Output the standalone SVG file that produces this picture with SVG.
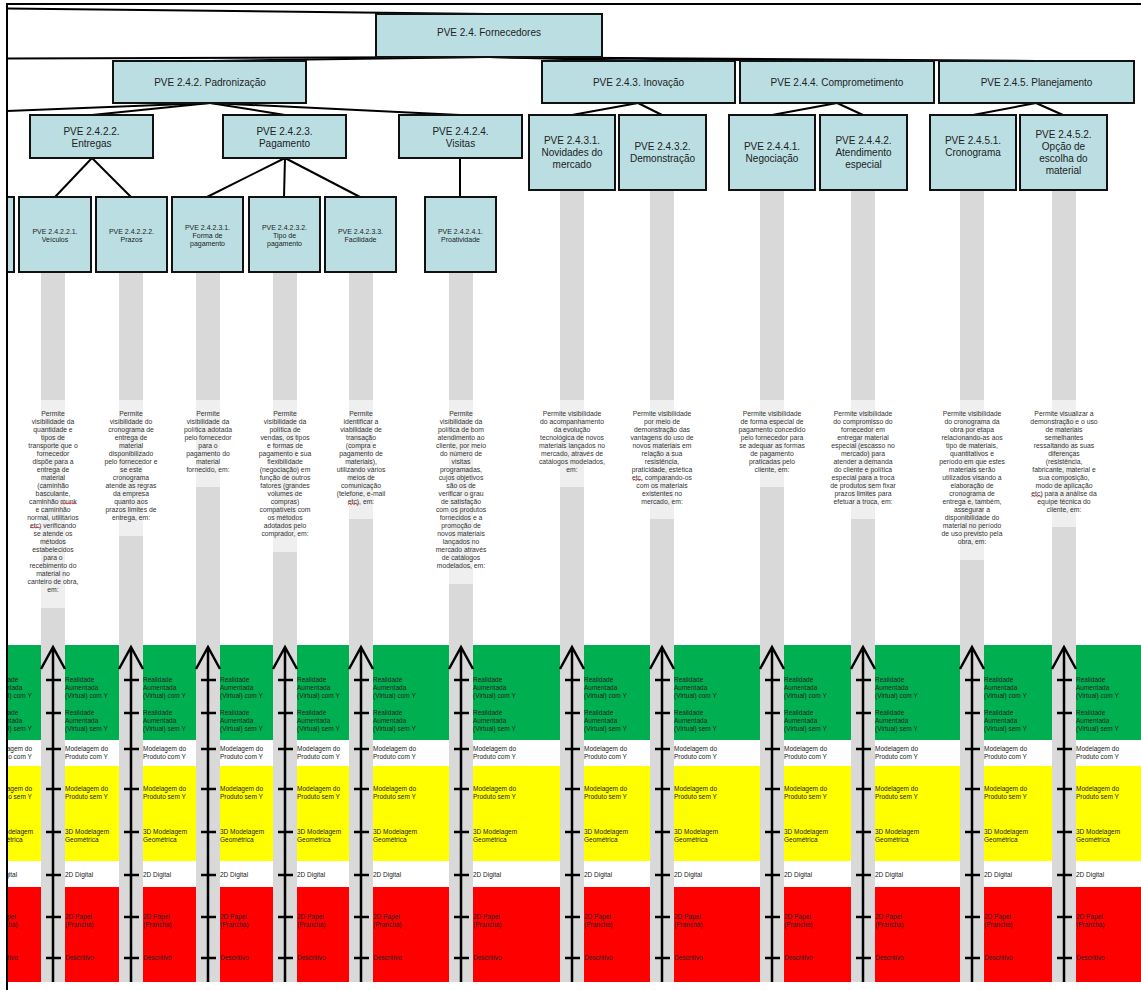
<svg xmlns="http://www.w3.org/2000/svg" width="1141" height="990" viewBox="0 0 1141 990">
<defs>
<style>
.bx{fill:#badee2;stroke:#111;stroke-width:2}
.t{font-family:"Liberation Sans",Arial,sans-serif;fill:#222;text-anchor:middle}
.t10{font-size:10px}
.t7{font-size:7px}
.d{font-family:"Liberation Sans",Arial,sans-serif;font-size:6.8px;fill:#333;text-anchor:middle}
.lb{font-family:"Liberation Sans",Arial,sans-serif;font-size:6.5px;fill:#222}
.bar{fill:#d9d9d9}
.lt{fill:#efefef}
.ax{stroke:#000;stroke-width:2.5;fill:none}
.cn{stroke:#000;stroke-width:2;fill:none}
.sp{stroke:#e02020;stroke-width:0.8;fill:none}
</style>
<clipPath id="clip"><rect x="7" y="0" width="1134" height="990"/></clipPath>
</defs>
<rect x="0" y="0" width="1141" height="990" fill="#fff"/>
<g clip-path="url(#clip)">
<g id="bands">
<rect x="7" y="645" width="1134" height="95" fill="#00b050"/>
<rect x="7" y="766" width="1134" height="95" fill="#ffff00"/>
<rect x="7" y="887" width="1134" height="95" fill="#ff0000"/>
</g>
<g id="bars">
<rect class="bar" x="41" y="272" width="24" height="710"/><rect class="lt" x="41" y="400" width="24" height="208"/>
<rect class="bar" x="119" y="272" width="24" height="710"/><rect class="lt" x="119" y="400" width="24" height="136"/>
<rect class="bar" x="196" y="272" width="24" height="710"/><rect class="lt" x="196" y="400" width="24" height="87"/>
<rect class="bar" x="273" y="272" width="24" height="710"/><rect class="lt" x="273" y="400" width="24" height="152"/>
<rect class="bar" x="349" y="272" width="24" height="710"/><rect class="lt" x="349" y="400" width="24" height="119"/>
<rect class="bar" x="449" y="272" width="24" height="710"/><rect class="lt" x="449" y="400" width="24" height="184"/>
<rect class="bar" x="560" y="190" width="24" height="792"/><rect class="lt" x="560" y="400" width="24" height="87"/>
<rect class="bar" x="650" y="190" width="24" height="792"/><rect class="lt" x="650" y="400" width="24" height="119"/>
<rect class="bar" x="760" y="190" width="24" height="792"/><rect class="lt" x="760" y="400" width="24" height="87"/>
<rect class="bar" x="851" y="190" width="24" height="792"/><rect class="lt" x="851" y="400" width="24" height="119"/>
<rect class="bar" x="960" y="190" width="24" height="792"/><rect class="lt" x="960" y="400" width="24" height="160"/>
<rect class="bar" x="1052" y="190" width="24" height="792"/><rect class="lt" x="1052" y="400" width="24" height="127"/>
</g>
<g id="descriptions">
<text class="d" x="53" y="415.5"><tspan x="53">Permite</tspan><tspan x="53" dy="8">visibilidade da</tspan><tspan x="53" dy="8">quantidade e</tspan><tspan x="53" dy="8">tipos de</tspan><tspan x="53" dy="8">transporte que o</tspan><tspan x="53" dy="8">fornecedor</tspan><tspan x="53" dy="8">dispõe para a</tspan><tspan x="53" dy="8">entrega de</tspan><tspan x="53" dy="8">material</tspan><tspan x="53" dy="8">(caminhão</tspan><tspan x="53" dy="8">basculante,</tspan><tspan x="53" dy="8">caminhão munk</tspan><tspan x="53" dy="8">e caminhão</tspan><tspan x="53" dy="8">normal, utilitários</tspan><tspan x="53" dy="8">etc) verificando</tspan><tspan x="53" dy="8">se atende os</tspan><tspan x="53" dy="8">métodos</tspan><tspan x="53" dy="8">estabelecidos</tspan><tspan x="53" dy="8">para o</tspan><tspan x="53" dy="8">recebimento do</tspan><tspan x="53" dy="8">material no</tspan><tspan x="53" dy="8">canteiro de obra,</tspan><tspan x="53" dy="8">em:</tspan></text>
<text class="d" x="131" y="415.5"><tspan x="131">Permite</tspan><tspan x="131" dy="8">visibilidade do</tspan><tspan x="131" dy="8">cronograma de</tspan><tspan x="131" dy="8">entrega de</tspan><tspan x="131" dy="8">material</tspan><tspan x="131" dy="8">disponibilizado</tspan><tspan x="131" dy="8">pelo fornecedor e</tspan><tspan x="131" dy="8">se este</tspan><tspan x="131" dy="8">cronograma</tspan><tspan x="131" dy="8">atende as regras</tspan><tspan x="131" dy="8">da empresa</tspan><tspan x="131" dy="8">quanto aos</tspan><tspan x="131" dy="8">prazos limites de</tspan><tspan x="131" dy="8">entrega, em:</tspan></text>
<text class="d" x="208" y="415.5"><tspan x="208">Permite</tspan><tspan x="208" dy="8">visibilidade da</tspan><tspan x="208" dy="8">política adotada</tspan><tspan x="208" dy="8">pelo fornecedor</tspan><tspan x="208" dy="8">para o</tspan><tspan x="208" dy="8">pagamento do</tspan><tspan x="208" dy="8">material</tspan><tspan x="208" dy="8">fornecido, em:</tspan></text>
<text class="d" x="285" y="415.5"><tspan x="285">Permite</tspan><tspan x="285" dy="8">visibilidade da</tspan><tspan x="285" dy="8">política de</tspan><tspan x="285" dy="8">vendas, os tipos</tspan><tspan x="285" dy="8">e formas de</tspan><tspan x="285" dy="8">pagamento e sua</tspan><tspan x="285" dy="8">flexibilidade</tspan><tspan x="285" dy="8">(negociação) em</tspan><tspan x="285" dy="8">função de outros</tspan><tspan x="285" dy="8">fatores (grandes</tspan><tspan x="285" dy="8">volumes de</tspan><tspan x="285" dy="8">compras)</tspan><tspan x="285" dy="8">compatíveis com</tspan><tspan x="285" dy="8">os métodos</tspan><tspan x="285" dy="8">adotados pelo</tspan><tspan x="285" dy="8">comprador, em:</tspan></text>
<text class="d" x="361" y="415.5"><tspan x="361">Permite</tspan><tspan x="361" dy="8">identificar a</tspan><tspan x="361" dy="8">viabilidade de</tspan><tspan x="361" dy="8">transação</tspan><tspan x="361" dy="8">(compra e</tspan><tspan x="361" dy="8">pagamento de</tspan><tspan x="361" dy="8">materiais),</tspan><tspan x="361" dy="8">utilizando vários</tspan><tspan x="361" dy="8">meios de</tspan><tspan x="361" dy="8">comunicação</tspan><tspan x="361" dy="8">(telefone, e-mail</tspan><tspan x="361" dy="8">etc), em:</tspan></text>
<text class="d" x="461" y="415.5"><tspan x="461">Permite</tspan><tspan x="461" dy="8">visibilidade da</tspan><tspan x="461" dy="8">política de bom</tspan><tspan x="461" dy="8">atendimento ao</tspan><tspan x="461" dy="8">cliente, por meio</tspan><tspan x="461" dy="8">do número de</tspan><tspan x="461" dy="8">visitas</tspan><tspan x="461" dy="8">programadas,</tspan><tspan x="461" dy="8">cujos objetivos</tspan><tspan x="461" dy="8">são os de</tspan><tspan x="461" dy="8">verificar o grau</tspan><tspan x="461" dy="8">de satisfação</tspan><tspan x="461" dy="8">com os produtos</tspan><tspan x="461" dy="8">fornecidos e a</tspan><tspan x="461" dy="8">promoção de</tspan><tspan x="461" dy="8">novos materiais</tspan><tspan x="461" dy="8">lançados no</tspan><tspan x="461" dy="8">mercado através</tspan><tspan x="461" dy="8">de catálogos</tspan><tspan x="461" dy="8">modelados, em:</tspan></text>
<text class="d" x="572" y="415.5"><tspan x="572">Permite visibilidade</tspan><tspan x="572" dy="8">do acompanhamento</tspan><tspan x="572" dy="8">da evolução</tspan><tspan x="572" dy="8">tecnológica de novos</tspan><tspan x="572" dy="8">materiais lançados no</tspan><tspan x="572" dy="8">mercado, através de</tspan><tspan x="572" dy="8">catálogos modelados,</tspan><tspan x="572" dy="8">em:</tspan></text>
<text class="d" x="662" y="415.5"><tspan x="662">Permite visibilidade</tspan><tspan x="662" dy="8">por meio de</tspan><tspan x="662" dy="8">demonstração das</tspan><tspan x="662" dy="8">vantagens do uso de</tspan><tspan x="662" dy="8">novos materiais em</tspan><tspan x="662" dy="8">relação a sua</tspan><tspan x="662" dy="8">resistência,</tspan><tspan x="662" dy="8">praticidade, estética</tspan><tspan x="662" dy="8">etc, comparando-os</tspan><tspan x="662" dy="8">com os materiais</tspan><tspan x="662" dy="8">existentes no</tspan><tspan x="662" dy="8">mercado, em:</tspan></text>
<text class="d" x="772" y="415.5"><tspan x="772">Permite visibilidade</tspan><tspan x="772" dy="8">de forma especial de</tspan><tspan x="772" dy="8">pagamento concedido</tspan><tspan x="772" dy="8">pelo fornecedor para</tspan><tspan x="772" dy="8">se adequar as formas</tspan><tspan x="772" dy="8">de pagamento</tspan><tspan x="772" dy="8">praticadas pelo</tspan><tspan x="772" dy="8">cliente, em:</tspan></text>
<text class="d" x="863" y="415.5"><tspan x="863">Permite visibilidade</tspan><tspan x="863" dy="8">do compromisso do</tspan><tspan x="863" dy="8">fornecedor em</tspan><tspan x="863" dy="8">entregar material</tspan><tspan x="863" dy="8">especial (escasso no</tspan><tspan x="863" dy="8">mercado) para</tspan><tspan x="863" dy="8">atender a demanda</tspan><tspan x="863" dy="8">do cliente e política</tspan><tspan x="863" dy="8">especial para a troca</tspan><tspan x="863" dy="8">de produtos sem fixar</tspan><tspan x="863" dy="8">prazos limites para</tspan><tspan x="863" dy="8">efetuar a troca, em:</tspan></text>
<text class="d" x="972" y="415.5"><tspan x="972">Permite visibilidade</tspan><tspan x="972" dy="8">do cronograma da</tspan><tspan x="972" dy="8">obra por etapa</tspan><tspan x="972" dy="8">relacionando-as aos</tspan><tspan x="972" dy="8">tipo de materiais,</tspan><tspan x="972" dy="8">quantitativos e</tspan><tspan x="972" dy="8">período em que estes</tspan><tspan x="972" dy="8">materiais serão</tspan><tspan x="972" dy="8">utilizados visando a</tspan><tspan x="972" dy="8">elaboração de</tspan><tspan x="972" dy="8">cronograma de</tspan><tspan x="972" dy="8">entrega e, também,</tspan><tspan x="972" dy="8">assegurar a</tspan><tspan x="972" dy="8">disponibilidade do</tspan><tspan x="972" dy="8">material no período</tspan><tspan x="972" dy="8">de uso previsto pela</tspan><tspan x="972" dy="8">obra, em:</tspan></text>
<text class="d" x="1064" y="415.5"><tspan x="1064">Permite visualizar a</tspan><tspan x="1064" dy="8">demonstração e o uso</tspan><tspan x="1064" dy="8">de materiais</tspan><tspan x="1064" dy="8">semelhantes</tspan><tspan x="1064" dy="8">ressaltando as suas</tspan><tspan x="1064" dy="8">diferenças</tspan><tspan x="1064" dy="8">(resistência,</tspan><tspan x="1064" dy="8">fabricante, material e</tspan><tspan x="1064" dy="8">sua composição,</tspan><tspan x="1064" dy="8">modo de aplicação</tspan><tspan x="1064" dy="8">etc) para a análise da</tspan><tspan x="1064" dy="8">equipe técnica do</tspan><tspan x="1064" dy="8">cliente, em:</tspan></text>
<path class="sp" d="M61,504 l1.5,-1 l1.5,1 l1.5,-1 l1.5,1 l1.5,-1 l1.5,1 l1.5,-1 l1.5,1 l1.5,-1 l1.5,1"/>
<path class="sp" d="M30,528 l1.5,-1 l1.5,1 l1.5,-1 l1.5,1 l1.5,-1 l1.5,1 l1.5,-1"/>
<path class="sp" d="M348,504.5 l1.5,-1 l1.5,1 l1.5,-1 l1.5,1 l1.5,-1 l1.5,1 l1.5,-1"/>
<path class="sp" d="M633,480.5 l1.5,-1 l1.5,1 l1.5,-1 l1.5,1 l1.5,-1 l1.5,1"/>
<path class="sp" d="M1031.5,496.5 l1.5,-1 l1.5,1 l1.5,-1 l1.5,1 l1.5,-1 l1.5,1 l1.5,-1"/>
</g>
<g id="scales">
<g class="ax">
<path d="M41,669 L53,647 L65,669 M53,647 V982 M46,680 H61 M46,713 H61 M46,749 H61 M46,789 H61 M46,832 H61 M46,875 H61 M46,917 H61 M46,958 H61"/>
<path d="M119,669 L131,647 L143,669 M131,647 V982 M124,680 H139 M124,713 H139 M124,749 H139 M124,789 H139 M124,832 H139 M124,875 H139 M124,917 H139 M124,958 H139"/>
<path d="M196,669 L208,647 L220,669 M208,647 V982 M201,680 H216 M201,713 H216 M201,749 H216 M201,789 H216 M201,832 H216 M201,875 H216 M201,917 H216 M201,958 H216"/>
<path d="M273,669 L285,647 L297,669 M285,647 V982 M278,680 H293 M278,713 H293 M278,749 H293 M278,789 H293 M278,832 H293 M278,875 H293 M278,917 H293 M278,958 H293"/>
<path d="M349,669 L361,647 L373,669 M361,647 V982 M354,680 H369 M354,713 H369 M354,749 H369 M354,789 H369 M354,832 H369 M354,875 H369 M354,917 H369 M354,958 H369"/>
<path d="M449,669 L461,647 L473,669 M461,647 V982 M454,680 H469 M454,713 H469 M454,749 H469 M454,789 H469 M454,832 H469 M454,875 H469 M454,917 H469 M454,958 H469"/>
<path d="M560,669 L572,647 L584,669 M572,647 V982 M565,680 H580 M565,713 H580 M565,749 H580 M565,789 H580 M565,832 H580 M565,875 H580 M565,917 H580 M565,958 H580"/>
<path d="M650,669 L662,647 L674,669 M662,647 V982 M655,680 H670 M655,713 H670 M655,749 H670 M655,789 H670 M655,832 H670 M655,875 H670 M655,917 H670 M655,958 H670"/>
<path d="M760,669 L772,647 L784,669 M772,647 V982 M765,680 H780 M765,713 H780 M765,749 H780 M765,789 H780 M765,832 H780 M765,875 H780 M765,917 H780 M765,958 H780"/>
<path d="M851,669 L863,647 L875,669 M863,647 V982 M856,680 H871 M856,713 H871 M856,749 H871 M856,789 H871 M856,832 H871 M856,875 H871 M856,917 H871 M856,958 H871"/>
<path d="M960,669 L972,647 L984,669 M972,647 V982 M965,680 H980 M965,713 H980 M965,749 H980 M965,789 H980 M965,832 H980 M965,875 H980 M965,917 H980 M965,958 H980"/>
<path d="M1052,669 L1064,647 L1076,669 M1064,647 V982 M1057,680 H1072 M1057,713 H1072 M1057,749 H1072 M1057,789 H1072 M1057,832 H1072 M1057,875 H1072 M1057,917 H1072 M1057,958 H1072"/>
</g>
</g>
<g id="scale-labels">
<text class="lb" x="-11" y="682.4"><tspan x="-11">Realidade</tspan><tspan x="-11" dy="8">Aumentada</tspan><tspan x="-11" dy="8">(Virtual) com Y</tspan></text>
<text class="lb" x="-11" y="715.4"><tspan x="-11">Realidade</tspan><tspan x="-11" dy="8">Aumentada</tspan><tspan x="-11" dy="8">(Virtual) sem Y</tspan></text>
<text class="lb" x="-11" y="751.4"><tspan x="-11">Modelagem do</tspan><tspan x="-11" dy="8">Produto com Y</tspan></text>
<text class="lb" x="-11" y="791.4"><tspan x="-11">Modelagem do</tspan><tspan x="-11" dy="8">Produto sem Y</tspan></text>
<text class="lb" x="-11" y="834.4"><tspan x="-11">3D Modelagem</tspan><tspan x="-11" dy="8">Geométrica</tspan></text>
<text class="lb" x="-11" y="877.4">2D Digital</text>
<text class="lb" x="-11" y="919.4"><tspan x="-11">2D Papel</tspan><tspan x="-11" dy="8">(Prancha)</tspan></text>
<text class="lb" x="-11" y="960.4">Descritivo</text>

<text class="lb" x="65" y="682.4"><tspan x="65">Realidade</tspan><tspan x="65" dy="8">Aumentada</tspan><tspan x="65" dy="8">(Virtual) com Y</tspan></text>
<text class="lb" x="65" y="715.4"><tspan x="65">Realidade</tspan><tspan x="65" dy="8">Aumentada</tspan><tspan x="65" dy="8">(Virtual) sem Y</tspan></text>
<text class="lb" x="65" y="751.4"><tspan x="65">Modelagem do</tspan><tspan x="65" dy="8">Produto com Y</tspan></text>
<text class="lb" x="65" y="791.4"><tspan x="65">Modelagem do</tspan><tspan x="65" dy="8">Produto sem Y</tspan></text>
<text class="lb" x="65" y="834.4"><tspan x="65">3D Modelagem</tspan><tspan x="65" dy="8">Geométrica</tspan></text>
<text class="lb" x="65" y="877.4">2D Digital</text>
<text class="lb" x="65" y="919.4"><tspan x="65">2D Papel</tspan><tspan x="65" dy="8">(Prancha)</tspan></text>
<text class="lb" x="65" y="960.4">Descritivo</text>

<text class="lb" x="143" y="682.4"><tspan x="143">Realidade</tspan><tspan x="143" dy="8">Aumentada</tspan><tspan x="143" dy="8">(Virtual) com Y</tspan></text>
<text class="lb" x="143" y="715.4"><tspan x="143">Realidade</tspan><tspan x="143" dy="8">Aumentada</tspan><tspan x="143" dy="8">(Virtual) sem Y</tspan></text>
<text class="lb" x="143" y="751.4"><tspan x="143">Modelagem do</tspan><tspan x="143" dy="8">Produto com Y</tspan></text>
<text class="lb" x="143" y="791.4"><tspan x="143">Modelagem do</tspan><tspan x="143" dy="8">Produto sem Y</tspan></text>
<text class="lb" x="143" y="834.4"><tspan x="143">3D Modelagem</tspan><tspan x="143" dy="8">Geométrica</tspan></text>
<text class="lb" x="143" y="877.4">2D Digital</text>
<text class="lb" x="143" y="919.4"><tspan x="143">2D Papel</tspan><tspan x="143" dy="8">(Prancha)</tspan></text>
<text class="lb" x="143" y="960.4">Descritivo</text>

<text class="lb" x="220" y="682.4"><tspan x="220">Realidade</tspan><tspan x="220" dy="8">Aumentada</tspan><tspan x="220" dy="8">(Virtual) com Y</tspan></text>
<text class="lb" x="220" y="715.4"><tspan x="220">Realidade</tspan><tspan x="220" dy="8">Aumentada</tspan><tspan x="220" dy="8">(Virtual) sem Y</tspan></text>
<text class="lb" x="220" y="751.4"><tspan x="220">Modelagem do</tspan><tspan x="220" dy="8">Produto com Y</tspan></text>
<text class="lb" x="220" y="791.4"><tspan x="220">Modelagem do</tspan><tspan x="220" dy="8">Produto sem Y</tspan></text>
<text class="lb" x="220" y="834.4"><tspan x="220">3D Modelagem</tspan><tspan x="220" dy="8">Geométrica</tspan></text>
<text class="lb" x="220" y="877.4">2D Digital</text>
<text class="lb" x="220" y="919.4"><tspan x="220">2D Papel</tspan><tspan x="220" dy="8">(Prancha)</tspan></text>
<text class="lb" x="220" y="960.4">Descritivo</text>

<text class="lb" x="297" y="682.4"><tspan x="297">Realidade</tspan><tspan x="297" dy="8">Aumentada</tspan><tspan x="297" dy="8">(Virtual) com Y</tspan></text>
<text class="lb" x="297" y="715.4"><tspan x="297">Realidade</tspan><tspan x="297" dy="8">Aumentada</tspan><tspan x="297" dy="8">(Virtual) sem Y</tspan></text>
<text class="lb" x="297" y="751.4"><tspan x="297">Modelagem do</tspan><tspan x="297" dy="8">Produto com Y</tspan></text>
<text class="lb" x="297" y="791.4"><tspan x="297">Modelagem do</tspan><tspan x="297" dy="8">Produto sem Y</tspan></text>
<text class="lb" x="297" y="834.4"><tspan x="297">3D Modelagem</tspan><tspan x="297" dy="8">Geométrica</tspan></text>
<text class="lb" x="297" y="877.4">2D Digital</text>
<text class="lb" x="297" y="919.4"><tspan x="297">2D Papel</tspan><tspan x="297" dy="8">(Prancha)</tspan></text>
<text class="lb" x="297" y="960.4">Descritivo</text>

<text class="lb" x="373" y="682.4"><tspan x="373">Realidade</tspan><tspan x="373" dy="8">Aumentada</tspan><tspan x="373" dy="8">(Virtual) com Y</tspan></text>
<text class="lb" x="373" y="715.4"><tspan x="373">Realidade</tspan><tspan x="373" dy="8">Aumentada</tspan><tspan x="373" dy="8">(Virtual) sem Y</tspan></text>
<text class="lb" x="373" y="751.4"><tspan x="373">Modelagem do</tspan><tspan x="373" dy="8">Produto com Y</tspan></text>
<text class="lb" x="373" y="791.4"><tspan x="373">Modelagem do</tspan><tspan x="373" dy="8">Produto sem Y</tspan></text>
<text class="lb" x="373" y="834.4"><tspan x="373">3D Modelagem</tspan><tspan x="373" dy="8">Geométrica</tspan></text>
<text class="lb" x="373" y="877.4">2D Digital</text>
<text class="lb" x="373" y="919.4"><tspan x="373">2D Papel</tspan><tspan x="373" dy="8">(Prancha)</tspan></text>
<text class="lb" x="373" y="960.4">Descritivo</text>

<text class="lb" x="473" y="682.4"><tspan x="473">Realidade</tspan><tspan x="473" dy="8">Aumentada</tspan><tspan x="473" dy="8">(Virtual) com Y</tspan></text>
<text class="lb" x="473" y="715.4"><tspan x="473">Realidade</tspan><tspan x="473" dy="8">Aumentada</tspan><tspan x="473" dy="8">(Virtual) sem Y</tspan></text>
<text class="lb" x="473" y="751.4"><tspan x="473">Modelagem do</tspan><tspan x="473" dy="8">Produto com Y</tspan></text>
<text class="lb" x="473" y="791.4"><tspan x="473">Modelagem do</tspan><tspan x="473" dy="8">Produto sem Y</tspan></text>
<text class="lb" x="473" y="834.4"><tspan x="473">3D Modelagem</tspan><tspan x="473" dy="8">Geométrica</tspan></text>
<text class="lb" x="473" y="877.4">2D Digital</text>
<text class="lb" x="473" y="919.4"><tspan x="473">2D Papel</tspan><tspan x="473" dy="8">(Prancha)</tspan></text>
<text class="lb" x="473" y="960.4">Descritivo</text>

<text class="lb" x="584" y="682.4"><tspan x="584">Realidade</tspan><tspan x="584" dy="8">Aumentada</tspan><tspan x="584" dy="8">(Virtual) com Y</tspan></text>
<text class="lb" x="584" y="715.4"><tspan x="584">Realidade</tspan><tspan x="584" dy="8">Aumentada</tspan><tspan x="584" dy="8">(Virtual) sem Y</tspan></text>
<text class="lb" x="584" y="751.4"><tspan x="584">Modelagem do</tspan><tspan x="584" dy="8">Produto com Y</tspan></text>
<text class="lb" x="584" y="791.4"><tspan x="584">Modelagem do</tspan><tspan x="584" dy="8">Produto sem Y</tspan></text>
<text class="lb" x="584" y="834.4"><tspan x="584">3D Modelagem</tspan><tspan x="584" dy="8">Geométrica</tspan></text>
<text class="lb" x="584" y="877.4">2D Digital</text>
<text class="lb" x="584" y="919.4"><tspan x="584">2D Papel</tspan><tspan x="584" dy="8">(Prancha)</tspan></text>
<text class="lb" x="584" y="960.4">Descritivo</text>

<text class="lb" x="674" y="682.4"><tspan x="674">Realidade</tspan><tspan x="674" dy="8">Aumentada</tspan><tspan x="674" dy="8">(Virtual) com Y</tspan></text>
<text class="lb" x="674" y="715.4"><tspan x="674">Realidade</tspan><tspan x="674" dy="8">Aumentada</tspan><tspan x="674" dy="8">(Virtual) sem Y</tspan></text>
<text class="lb" x="674" y="751.4"><tspan x="674">Modelagem do</tspan><tspan x="674" dy="8">Produto com Y</tspan></text>
<text class="lb" x="674" y="791.4"><tspan x="674">Modelagem do</tspan><tspan x="674" dy="8">Produto sem Y</tspan></text>
<text class="lb" x="674" y="834.4"><tspan x="674">3D Modelagem</tspan><tspan x="674" dy="8">Geométrica</tspan></text>
<text class="lb" x="674" y="877.4">2D Digital</text>
<text class="lb" x="674" y="919.4"><tspan x="674">2D Papel</tspan><tspan x="674" dy="8">(Prancha)</tspan></text>
<text class="lb" x="674" y="960.4">Descritivo</text>

<text class="lb" x="784" y="682.4"><tspan x="784">Realidade</tspan><tspan x="784" dy="8">Aumentada</tspan><tspan x="784" dy="8">(Virtual) com Y</tspan></text>
<text class="lb" x="784" y="715.4"><tspan x="784">Realidade</tspan><tspan x="784" dy="8">Aumentada</tspan><tspan x="784" dy="8">(Virtual) sem Y</tspan></text>
<text class="lb" x="784" y="751.4"><tspan x="784">Modelagem do</tspan><tspan x="784" dy="8">Produto com Y</tspan></text>
<text class="lb" x="784" y="791.4"><tspan x="784">Modelagem do</tspan><tspan x="784" dy="8">Produto sem Y</tspan></text>
<text class="lb" x="784" y="834.4"><tspan x="784">3D Modelagem</tspan><tspan x="784" dy="8">Geométrica</tspan></text>
<text class="lb" x="784" y="877.4">2D Digital</text>
<text class="lb" x="784" y="919.4"><tspan x="784">2D Papel</tspan><tspan x="784" dy="8">(Prancha)</tspan></text>
<text class="lb" x="784" y="960.4">Descritivo</text>

<text class="lb" x="875" y="682.4"><tspan x="875">Realidade</tspan><tspan x="875" dy="8">Aumentada</tspan><tspan x="875" dy="8">(Virtual) com Y</tspan></text>
<text class="lb" x="875" y="715.4"><tspan x="875">Realidade</tspan><tspan x="875" dy="8">Aumentada</tspan><tspan x="875" dy="8">(Virtual) sem Y</tspan></text>
<text class="lb" x="875" y="751.4"><tspan x="875">Modelagem do</tspan><tspan x="875" dy="8">Produto com Y</tspan></text>
<text class="lb" x="875" y="791.4"><tspan x="875">Modelagem do</tspan><tspan x="875" dy="8">Produto sem Y</tspan></text>
<text class="lb" x="875" y="834.4"><tspan x="875">3D Modelagem</tspan><tspan x="875" dy="8">Geométrica</tspan></text>
<text class="lb" x="875" y="877.4">2D Digital</text>
<text class="lb" x="875" y="919.4"><tspan x="875">2D Papel</tspan><tspan x="875" dy="8">(Prancha)</tspan></text>
<text class="lb" x="875" y="960.4">Descritivo</text>

<text class="lb" x="984" y="682.4"><tspan x="984">Realidade</tspan><tspan x="984" dy="8">Aumentada</tspan><tspan x="984" dy="8">(Virtual) com Y</tspan></text>
<text class="lb" x="984" y="715.4"><tspan x="984">Realidade</tspan><tspan x="984" dy="8">Aumentada</tspan><tspan x="984" dy="8">(Virtual) sem Y</tspan></text>
<text class="lb" x="984" y="751.4"><tspan x="984">Modelagem do</tspan><tspan x="984" dy="8">Produto com Y</tspan></text>
<text class="lb" x="984" y="791.4"><tspan x="984">Modelagem do</tspan><tspan x="984" dy="8">Produto sem Y</tspan></text>
<text class="lb" x="984" y="834.4"><tspan x="984">3D Modelagem</tspan><tspan x="984" dy="8">Geométrica</tspan></text>
<text class="lb" x="984" y="877.4">2D Digital</text>
<text class="lb" x="984" y="919.4"><tspan x="984">2D Papel</tspan><tspan x="984" dy="8">(Prancha)</tspan></text>
<text class="lb" x="984" y="960.4">Descritivo</text>

<text class="lb" x="1076" y="682.4"><tspan x="1076">Realidade</tspan><tspan x="1076" dy="8">Aumentada</tspan><tspan x="1076" dy="8">(Virtual) com Y</tspan></text>
<text class="lb" x="1076" y="715.4"><tspan x="1076">Realidade</tspan><tspan x="1076" dy="8">Aumentada</tspan><tspan x="1076" dy="8">(Virtual) sem Y</tspan></text>
<text class="lb" x="1076" y="751.4"><tspan x="1076">Modelagem do</tspan><tspan x="1076" dy="8">Produto com Y</tspan></text>
<text class="lb" x="1076" y="791.4"><tspan x="1076">Modelagem do</tspan><tspan x="1076" dy="8">Produto sem Y</tspan></text>
<text class="lb" x="1076" y="834.4"><tspan x="1076">3D Modelagem</tspan><tspan x="1076" dy="8">Geométrica</tspan></text>
<text class="lb" x="1076" y="877.4">2D Digital</text>
<text class="lb" x="1076" y="919.4"><tspan x="1076">2D Papel</tspan><tspan x="1076" dy="8">(Prancha)</tspan></text>
<text class="lb" x="1076" y="960.4">Descritivo</text>
</g>
<g id="connectors" class="cn">
<line x1="7" y1="4" x2="1141" y2="4"/>
<line x1="489" y1="14" x2="7" y2="8.5"/>
<line x1="489" y1="57" x2="7" y2="58.5"/>
<line x1="489" y1="57" x2="210" y2="61"/>
<line x1="489" y1="57" x2="638" y2="61"/>
<line x1="489" y1="57" x2="837" y2="61"/>
<line x1="489" y1="57" x2="1036" y2="61"/>
<line x1="210" y1="103" x2="7" y2="111"/>
<line x1="210" y1="103" x2="92" y2="115"/>
<line x1="210" y1="103" x2="285" y2="115"/>
<line x1="210" y1="103" x2="460" y2="115"/>
<line x1="638" y1="103" x2="572" y2="115"/>
<line x1="638" y1="103" x2="662" y2="115"/>
<line x1="837" y1="103" x2="772" y2="115"/>
<line x1="837" y1="103" x2="863" y2="115"/>
<line x1="1036" y1="103" x2="973" y2="115"/>
<line x1="1036" y1="103" x2="1063" y2="115"/>
<line x1="92" y1="158" x2="55" y2="197"/>
<line x1="92" y1="158" x2="131" y2="197"/>
<line x1="285" y1="158" x2="207" y2="197"/>
<line x1="285" y1="158" x2="284" y2="197"/>
<line x1="285" y1="158" x2="360" y2="197"/>
<line x1="460" y1="158" x2="460" y2="197"/>
</g>
<g id="node-fornecedores"><rect class="bx" x="376" y="14" width="226" height="43"/><text class="t t10" x="489" y="35.5">PVE 2.4. Fornecedores</text></g>
<g id="node-padronizacao"><rect class="bx" x="113" y="61" width="193" height="42"/><text class="t t10" x="210" y="85.5">PVE 2.4.2. Padronização</text></g>
<g id="node-inovacao"><rect class="bx" x="542" y="61" width="193" height="42"/><text class="t t10" x="638.5" y="85.5">PVE 2.4.3. Inovação</text></g>
<g id="node-comprometimento"><rect class="bx" x="740" y="61" width="194" height="42"/><text class="t t10" x="837" y="85.5">PVE 2.4.4. Comprometimento</text></g>
<g id="node-planejamento"><rect class="bx" x="939" y="61" width="195" height="42"/><text class="t t10" x="1036.5" y="85.5">PVE 2.4.5. Planejamento</text></g>
<g id="node-entregas"><rect class="bx" x="30" y="115" width="123" height="43"/><text class="t t10" x="91.5" y="134.5"><tspan x="91.5">PVE 2.4.2.2.</tspan><tspan x="91.5" dy="12">Entregas</tspan></text></g>
<g id="node-pagamento"><rect class="bx" x="223" y="115" width="123" height="43"/><text class="t t10" x="284.5" y="134.5"><tspan x="284.5">PVE 2.4.2.3.</tspan><tspan x="284.5" dy="12">Pagamento</tspan></text></g>
<g id="node-visitas"><rect class="bx" x="399" y="115" width="123" height="43"/><text class="t t10" x="460.5" y="134.5"><tspan x="460.5">PVE 2.4.2.4.</tspan><tspan x="460.5" dy="12">Visitas</tspan></text></g>
<g id="node-novidades"><rect class="bx" x="529" y="115" width="86" height="75"/><text class="t t10" x="572" y="144"><tspan x="572">PVE 2.4.3.1.</tspan><tspan x="572" dy="12">Novidades do</tspan><tspan x="572" dy="12">mercado</tspan></text></g>
<g id="node-demonstracao"><rect class="bx" x="619" y="115" width="87" height="75"/><text class="t t10" x="662.5" y="150"><tspan x="662.5">PVE 2.4.3.2.</tspan><tspan x="662.5" dy="12">Demonstração</tspan></text></g>
<g id="node-negociacao"><rect class="bx" x="729" y="115" width="86" height="75"/><text class="t t10" x="772" y="150"><tspan x="772">PVE 2.4.4.1.</tspan><tspan x="772" dy="12">Negociação</tspan></text></g>
<g id="node-atendimento"><rect class="bx" x="820" y="115" width="87" height="75"/><text class="t t10" x="863.5" y="144"><tspan x="863.5">PVE 2.4.4.2.</tspan><tspan x="863.5" dy="12">Atendimento</tspan><tspan x="863.5" dy="12">especial</tspan></text></g>
<g id="node-cronograma"><rect class="bx" x="930" y="115" width="86" height="75"/><text class="t t10" x="973" y="144"><tspan x="973">PVE 2.4.5.1.</tspan><tspan x="973" dy="12">Cronograma</tspan></text></g>
<g id="node-opcao"><rect class="bx" x="1020" y="115" width="87" height="75"/><text class="t t10" x="1063.5" y="138"><tspan x="1063.5">PVE 2.4.5.2.</tspan><tspan x="1063.5" dy="12">Opção de</tspan><tspan x="1063.5" dy="12">escolha do</tspan><tspan x="1063.5" dy="12">material</tspan></text></g>
<g id="node-partial"><rect class="bx" x="-60" y="197" width="74" height="75"/></g>
<g id="node-veiculos"><rect class="bx" x="19" y="197" width="72" height="75"/><text class="t t7" x="55" y="233.5"><tspan x="55">PVE 2.4.2.2.1.</tspan><tspan x="55" dy="8">Veículos</tspan></text></g>
<g id="node-prazos"><rect class="bx" x="96" y="197" width="71" height="75"/><text class="t t7" x="131.5" y="233.5"><tspan x="131.5">PVE 2.4.2.2.2.</tspan><tspan x="131.5" dy="8">Prazos</tspan></text></g>
<g id="node-forma"><rect class="bx" x="172" y="197" width="71" height="75"/><text class="t t7" x="207.5" y="229.5"><tspan x="207.5">PVE 2.4.2.3.1.</tspan><tspan x="207.5" dy="8">Forma de</tspan><tspan x="207.5" dy="8">pagamento</tspan></text></g>
<g id="node-tipo"><rect class="bx" x="249" y="197" width="71" height="75"/><text class="t t7" x="284.5" y="229.5"><tspan x="284.5">PVE 2.4.2.3.2.</tspan><tspan x="284.5" dy="8">Tipo de</tspan><tspan x="284.5" dy="8">pagamento</tspan></text></g>
<g id="node-facilidade"><rect class="bx" x="325" y="197" width="71" height="75"/><text class="t t7" x="360.5" y="233.5"><tspan x="360.5">PVE 2.4.2.3.3.</tspan><tspan x="360.5" dy="8">Facilidade</tspan></text></g>
<g id="node-proatividade"><rect class="bx" x="425" y="197" width="71" height="75"/><text class="t t7" x="460.5" y="233.5"><tspan x="460.5">PVE 2.4.2.4.1.</tspan><tspan x="460.5" dy="8">Proatividade</tspan></text></g>
</g>
<line x1="7" y1="3" x2="7" y2="990" stroke="#000" stroke-width="2"/>
</svg>
